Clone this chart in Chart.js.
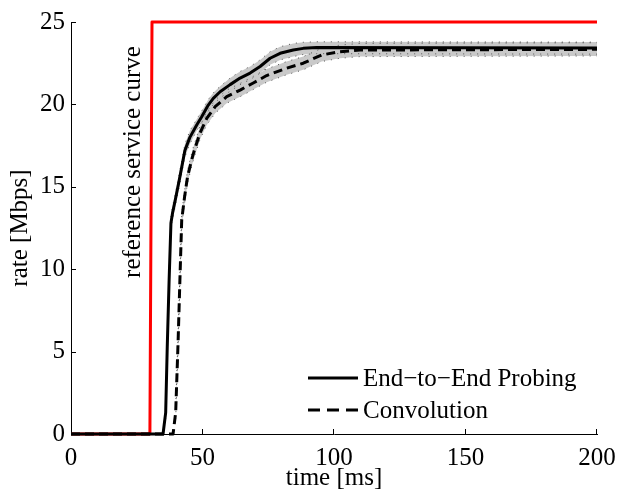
<!DOCTYPE html>
<html><head><meta charset="utf-8">
<script src="https://cdn.jsdelivr.net/npm/chart.js@4.4.1/dist/chart.umd.min.js"></script>
<style>html,body{margin:0;padding:0;background:#fff}canvas{display:block}</style>
</head><body>
<canvas id="c" width="621" height="495"></canvas>
<script>
// ---- data ----
const xTicks = [0, 50, 100, 150, 200];
const yTicks = [0, 5, 10, 15, 20, 25];

const refT    = [0, 30, 30.8, 200];
const refRate = [0, 0, 25, 25];

const solidT    = [0, 35.0, 36.0, 36.6, 37.3, 38.0, 38.6, 39.9, 41.4, 43.3, 45.2, 47.8, 49.7, 52.2, 54.1, 56.7, 60.5, 64.3, 68.1, 71.9, 75.7, 79.5, 84.5, 88.3, 93.4, 200];
const solidRate = [0, 0, 1.3, 5.3, 9.3, 12.8, 13.4, 14.4, 15.6, 17.2, 18.0, 18.75, 19.25, 19.96, 20.37, 20.77, 21.2, 21.6, 21.9, 22.3, 22.8, 23.1, 23.3, 23.4, 23.45, 23.42];
const solidBandT     = [36.0, 36.6, 37.3, 38.0, 38.6, 39.9, 41.4, 43.3, 45.2, 47.8, 49.7, 52.2, 54.1, 56.7, 60.5, 64.3, 68.1, 71.9, 75.7, 79.5, 84.5, 88.3, 93.4, 200];
const solidBandUpper = [1.7, 5.7, 9.7, 13.2, 13.8, 14.8, 16.0, 17.6, 18.4, 19.1, 19.6, 20.3, 20.7, 21.1, 21.6, 22.0, 22.3, 22.7, 23.2, 23.5, 23.7, 23.77, 23.8, 23.78];
const solidBandLower = [0.9, 4.9, 8.9, 12.4, 13.0, 14.0, 15.2, 16.8, 17.6, 18.4, 18.9, 19.6, 20.0, 20.4, 20.8, 21.2, 21.5, 21.9, 22.4, 22.7, 22.9, 23.03, 23.08, 23.05];

const convT    = [0, 38.8, 39.8, 40.7, 41.4, 42.1, 43.2, 44.3, 45.5, 46.5, 49.0, 51.6, 54.8, 59.2, 64.3, 69.3, 74.4, 82.0, 88.3, 95.3, 102.3, 109.9, 200];
const convRate = [0, 0, 1.3, 5.5, 9.3, 13.0, 14.4, 15.6, 16.4, 17.0, 18.25, 19.15, 19.86, 20.47, 20.87, 21.3, 21.75, 22.2, 22.5, 23.0, 23.2, 23.3, 23.34];
const convBandT     = [39.8, 40.7, 41.4, 42.1, 43.2, 44.3, 45.5, 46.5, 49.0, 51.6, 54.8, 59.2, 64.3, 69.3, 74.4, 82.0, 88.3, 95.3, 102.3, 109.9, 200];
const convBandUpper = [1.7, 5.9, 9.7, 13.4, 14.8, 16.0, 16.8, 17.4, 18.65, 19.55, 20.26, 20.87, 21.27, 21.7, 22.15, 22.6, 22.9, 23.4, 23.6, 23.7, 23.74];
const convBandLower = [0.9, 5.1, 8.9, 12.6, 14.0, 15.2, 16.0, 16.6, 17.85, 18.75, 19.46, 20.07, 20.47, 20.9, 21.35, 21.8, 22.1, 22.6, 22.8, 22.9, 22.94];

const legendLabels = ['End\u2212to\u2212End Probing', 'Convolution'];
const annotationText = 'reference service curve';
const xTitle = 'time [ms]';
const yTitle = 'rate [Mbps]';

// ---- helpers ----
const pts = (xs, ys) => xs.map((x, i) => ({x: x, y: ys[i]}));
const FONT = '"Liberation Serif", "Times New Roman", serif';
const bandFill = '#c9c9c9';
const dotColor = '#555';

const bandUpper = (xs, ys) => ({data: pts(xs, ys), borderColor: dotColor, borderWidth: 1, borderDash: [1, 6], fill: '+1', backgroundColor: bandFill, order: 5});
const bandLower = (xs, ys) => ({data: pts(xs, ys), borderColor: dotColor, borderWidth: 1, borderDash: [1, 6], fill: false, order: 5});

const overlay = {
  id: 'overlay',
  afterDraw(chart) {
    const {ctx, chartArea: {left, bottom}, scales: {x, y}} = chart;
    ctx.save();
    ctx.strokeStyle = '#000';
    ctx.lineWidth = 1;
    yTicks.forEach(v => {
      if (v === 0) return;
      const py = Math.round(y.getPixelForValue(v)) + 0.5;
      ctx.beginPath(); ctx.moveTo(left, py); ctx.lineTo(left + 5, py); ctx.stroke();
    });
    xTicks.forEach(v => {
      if (v === 0) return;
      const px = Math.round(x.getPixelForValue(v)) - 0.5;
      ctx.beginPath(); ctx.moveTo(px, bottom); ctx.lineTo(px, bottom - 5); ctx.stroke();
    });
    // legend
    ctx.lineWidth = 3;
    ctx.strokeStyle = '#000';
    ctx.beginPath(); ctx.moveTo(308, 378); ctx.lineTo(358, 378); ctx.stroke();
    ctx.setLineDash([12, 7]);
    ctx.beginPath(); ctx.moveTo(308, 410); ctx.lineTo(358, 410); ctx.stroke();
    ctx.setLineDash([]);
    ctx.fillStyle = '#000';
    ctx.font = '25px ' + FONT;
    ctx.textAlign = 'left';
    ctx.textBaseline = 'middle';
    ctx.fillText(legendLabels[0], 363, 379);
    ctx.fillText(legendLabels[1], 363, 411);
    // annotation
    ctx.translate(133, 162);
    ctx.rotate(-Math.PI / 2);
    ctx.textAlign = 'center';
    ctx.fillText(annotationText, 0, 0);
    ctx.restore();
  }
};

new Chart(document.getElementById('c'), {
  type: 'line',
  data: {
    datasets: [
      bandUpper(solidBandT, solidBandUpper),
      bandLower(solidBandT, solidBandLower),
      bandUpper(convBandT, convBandUpper),
      bandLower(convBandT, convBandLower),
      {data: pts(refT, refRate), borderColor: '#ff0000', borderWidth: 3, fill: false, clip: false, order: 4},
      {data: pts(solidT, solidRate), borderColor: '#000', borderWidth: 3, fill: false, clip: false, order: 2},
      {data: pts(convT, convRate), borderColor: '#000', borderWidth: 3, borderDash: [9, 5], fill: false, clip: false, order: 1}
    ]
  },
  options: {
    responsive: false,
    animation: false,
    devicePixelRatio: 1,
    layout: {padding: {top: 22, right: 24, left: 0, bottom: 0}},
    elements: {point: {radius: 0}, line: {tension: 0, borderJoinStyle: 'round'}},
    plugins: {legend: {display: false}, tooltip: {enabled: false}, filler: {drawTime: 'beforeDatasetsDraw'}},
    scales: {
      x: {
        type: 'linear', min: 0, max: 200,
        afterFit: s => { s.height = 61; s.paddingLeft = 0; s.paddingRight = 0; },
        afterBuildTicks: s => { s.ticks = xTicks.map(v => ({value: v})); },
        grid: {display: true, drawOnChartArea: false, drawTicks: false},
        border: {display: true, color: '#000', width: 1},
        ticks: {color: '#000', font: {family: FONT, size: 25}, padding: 9, maxRotation: 0},
        title: {display: true, text: xTitle, color: '#000', font: {family: FONT, size: 25}, padding: {top: 0, bottom: 2}}
      },
      y: {
        type: 'linear', min: 0, max: 25,
        afterFit: s => { s.width = 71; s.paddingTop = 0; s.paddingBottom = 0; },
        afterBuildTicks: s => { s.ticks = yTicks.map(v => ({value: v})); },
        grid: {display: true, drawOnChartArea: false, drawTicks: false},
        border: {display: true, color: '#000', width: 1},
        ticks: {color: '#000', font: {family: FONT, size: 25}, padding: 6},
        title: {display: true, text: yTitle, color: '#000', font: {family: FONT, size: 25}, padding: {top: 5, bottom: 0}}
      }
    }
  },
  plugins: [overlay]
});
</script>
</body></html>
